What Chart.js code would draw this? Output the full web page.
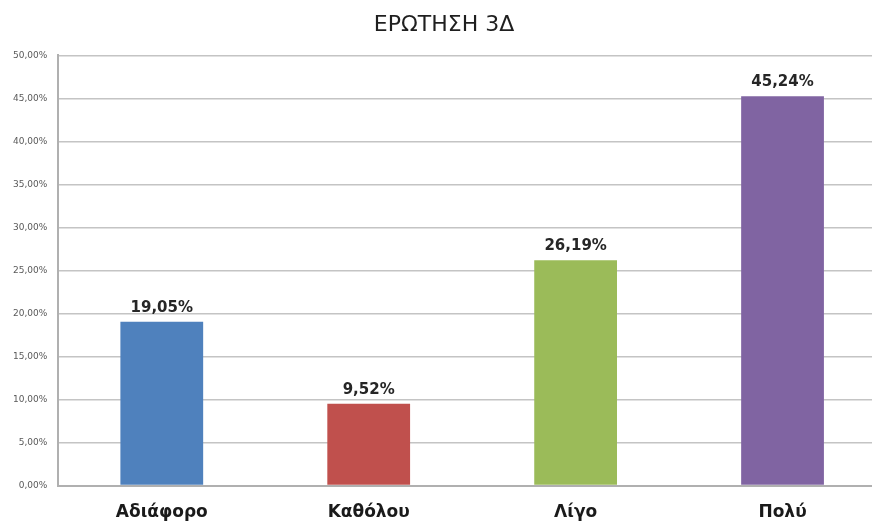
<!DOCTYPE html>
<html>
<head>
<meta charset="utf-8">
<script src="https://cdn.jsdelivr.net/npm/chart.js@4.4.1/dist/chart.umd.min.js"></script>
<style>
  html, body { margin: 0; padding: 0; background: #fff; overflow: hidden; }
  #wrap { width: 904px; height: 522px; }
  canvas { display: block; }
</style>
</head>
<body>
<div id="wrap"><canvas id="chart" width="904" height="522"></canvas></div>
<script>
// Answers to question 3Δ, share of respondents (%)
const categories = ['Αδιάφορο', 'Καθόλου', 'Λίγο', 'Πολύ'];
const percentValues = [19.05, 9.52, 26.19, 45.24];
const barColors = ['#4f81bd', '#c0504d', '#9bbb59', '#8064a2'];

const formatPct = v => v.toFixed(2).replace('.', ',') + '%';

// Value labels above each bar
const valueLabels = {
  id: 'valueLabels',
  afterDatasetsDraw(chart) {
    const ctx = chart.ctx;
    const meta = chart.getDatasetMeta(0);
    ctx.save();
    ctx.font = 'bold 15px "DejaVu Sans"';
    ctx.fillStyle = '#262626';
    ctx.textAlign = 'center';
    ctx.textBaseline = 'alphabetic';
    meta.data.forEach((bar, i) => {
      ctx.fillText(formatPct(percentValues[i]), bar.x, bar.y - 10);
    });
    ctx.restore();
  }
};

new Chart(document.getElementById('chart'), {
  type: 'bar',
  data: {
    labels: categories,
    datasets: [{
      data: percentValues,
      backgroundColor: barColors,
      borderWidth: 0,
      categoryPercentage: 1,
      barPercentage: 0.4
    }]
  },
  options: {
    responsive: false,
    animation: false,
    layout: { padding: { left: 2, right: 18, top: 0, bottom: -18 } },
    plugins: {
      legend: { display: false },
      tooltip: { enabled: false },
      title: {
        display: true,
        text: 'ΕΡΩΤΗΣΗ 3Δ',
        color: '#1f1f1f',
        font: { family: '"DejaVu Sans"', size: 22, weight: 'normal' },
        padding: { top: 12, bottom: 17 }
      }
    },
    scales: {
      x: {
        grid: { display: false, drawTicks: false },
        border: { color: '#b0b0b0', width: 2 },
        ticks: {
          color: '#1a1a1a',
          font: { family: '"DejaVu Sans"', size: 17, weight: 'bold' },
          padding: 17
        }
      },
      y: {
        min: 0,
        max: 50,
        ticks: {
          stepSize: 5,
          color: '#595959',
          font: { family: '"DejaVu Sans"', size: 9 },
          padding: 11,
          callback: v => formatPct(v)
        },
        grid: { color: '#c4c4c4', lineWidth: 1.5, drawTicks: false },
        border: { color: '#b0b0b0', width: 2 }
      }
    }
  },
  plugins: [valueLabels]
});
</script>
</body>
</html>
